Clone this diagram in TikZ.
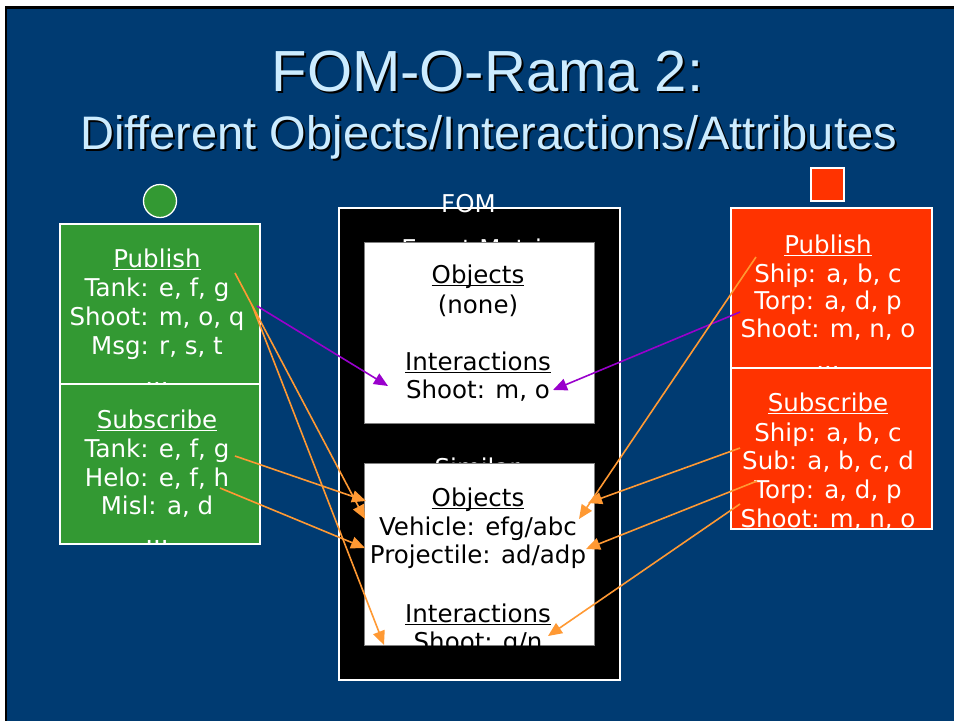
\documentclass[tikz,border=0pt]{standalone}
\usepackage{fontspec}
\setmainfont{DejaVu Sans}
\newfontfamily\titlefont{Liberation Sans}
\usetikzlibrary{arrows.meta}

\definecolor{slideblue}{RGB}{0,59,114}
\definecolor{titlecyan}{RGB}{204,236,255}
\definecolor{fedgreen}{RGB}{51,153,51}
\definecolor{fedred}{RGB}{255,51,0}
\definecolor{linkorange}{RGB}{255,153,51}
\definecolor{linkpurple}{RGB}{153,0,204}
\definecolor{boxgray}{RGB}{128,128,128}

% underlined heading word
\newsavebox\ulbox
\newcommand\ulword[1]{\sbox\ulbox{#1}\rlap{\rule[-3pt]{\wd\ulbox}{1.2pt}}\usebox\ulbox}

\tikzset{
  bodytxt/.style={font=\fontsize{24.5}{29}\selectfont, inner sep=0pt, anchor=base},
  wtxt/.style={bodytxt, text=white},
  ktxt/.style={bodytxt, text=black},
  titleA/.style={font=\titlefont\fontsize{58}{60}\selectfont, inner sep=0pt, anchor=base},
  titleB/.style={font=\titlefont\fontsize{47}{50}\selectfont, inner sep=0pt, anchor=base},
  fedbox/.style={draw=white, line width=1.3pt},
  orangelink/.style={draw=linkorange, line width=1.6pt, -{Triangle[length=14pt,width=12pt]}},
  purplelink/.style={draw=linkpurple, line width=1.6pt, -{Triangle[length=14pt,width=12pt]}},
}

\begin{document}
\begin{tikzpicture}[x=1pt,y=-1pt]
\useasboundingbox (0,0) rectangle (954,721);

% slide background with its frame
\fill[white] (0,0) rectangle (954,721);
\fill[slideblue] (7,9) rectangle (954,721);
\fill[black] (5,6) rectangle (954,9);
\fill[black] (5,6) rectangle (7,721);

% title with drop shadow
\node[titleA, text=black] (t1s) at (489.5,93) {FOM-O-Rama 2:};
\node[titleA, text=titlecyan] (t1) at (487.5,91) {FOM-O-Rama 2:};
\node[titleB, text=black] (t2s) at (490.5,151) {Different Objects/Interactions/Attributes};
\node[titleB, text=titlecyan] (t2) at (488.5,149) {Different Objects/Interactions/Attributes};

% FOM container
\draw[fill=black, draw=white, line width=1.2pt] (339,208) rectangle (620,680);
\node[wtxt] (fomlbl) at (468.5,212) {FOM};
\node[wtxt] (evlbl) at (479,257) {Event Matrix};
\node[wtxt] (simlbl) at (477,476) {Similar};

% first FOM panel
\draw[fill=white, draw=boxgray, line width=0.8pt] (364,242) rectangle (594,423);
\node[ktxt] (a1) at (478,283) {\ulword{Objects}};
\node[ktxt] (a2) at (478,313) {(none)};
\node[ktxt] (a3) at (478,370) {\ulword{Interactions}};
\node[ktxt] (a4) at (478,398) {Shoot: m, o};

% second FOM panel
\draw[fill=white, draw=boxgray, line width=0.8pt] (364,463) rectangle (594,645);
\node[ktxt] (b1) at (478,506) {\ulword{Objects}};
\node[ktxt] (b2) at (478,535) {Vehicle: efg/abc};
\node[ktxt] (b3) at (478,563) {Projectile: ad/adp};
\node[ktxt] (b4) at (478,622) {\ulword{Interactions}};
\begin{scope}
  \clip (364,463) rectangle (594,645);
  \node[ktxt] (b5) at (478,650) {Shoot: g/n};
\end{scope}

% green federate
\node[circle, fill=fedgreen, draw=white, line width=1.3pt, minimum size=33pt, inner sep=0pt] (gmark) at (160,201) {};
\fill[fedgreen] (60,224) rectangle (260,384);
\node[wtxt] (g1) at (157,267) {\ulword{Publish}};
\node[wtxt] (g2) at (157,296) {Tank: e, f, g};
\node[wtxt] (g3) at (157,325) {Shoot: m, o, q};
\node[wtxt] (g4) at (157,354) {Msg: r, s, t};
\node[wtxt] (g5) at (157,385) {...};
\draw[fedbox] (60,224) rectangle (260,384);
\fill[fedgreen] (60,384) rectangle (260,544);
\begin{scope}
  \clip (60,384) rectangle (260,544);
  \node[wtxt] (g6) at (157,428) {\ulword{Subscribe}};
  \node[wtxt] (g7) at (157,457) {Tank: e, f, g};
  \node[wtxt] (g8) at (157,486) {Helo: e, f, h};
  \node[wtxt] (g9) at (157,514) {Misl: a, d};
  \node[wtxt] (g10) at (157,543) {...};
\end{scope}
\draw[fedbox] (60,384) rectangle (260,544);

% red federate
\draw[fill=fedred, draw=white, line width=1.3pt] (811,168) rectangle (844,201);
\node[inner sep=0pt] (rmark) at (827.5,184.5) {};
\fill[fedred] (731,208) rectangle (932,368);
\node[wtxt] (r1) at (828,253) {\ulword{Publish}};
\node[wtxt] (r2) at (828,282) {Ship: a, b, c};
\node[wtxt] (r3) at (828,309) {Torp: a, d, p};
\node[wtxt] (r4) at (828,337) {Shoot: m, n, o};
\node[wtxt] (r5) at (828,369) {...};
\draw[fedbox] (731,208) rectangle (932,368);
\fill[fedred] (731,368) rectangle (932,529);
\begin{scope}
  \clip (731,368) rectangle (932,529);
  \node[wtxt] (r6) at (828,411) {\ulword{Subscribe}};
  \node[wtxt] (r7) at (828,441) {Ship: a, b, c};
  \node[wtxt] (r8) at (828,469) {Sub: a, b, c, d};
  \node[wtxt] (r9) at (828,498) {Torp: a, d, p};
  \node[wtxt] (r10) at (828,527) {Shoot: m, n, o};
\end{scope}
\draw[fedbox] (731,368) rectangle (932,529);

% connector end points
\coordinate (gPubTank) at (235,273);
\coordinate (gPubShoot) at (252,305);
\coordinate (gPubShootP) at (257,306);
\coordinate (gSubTank) at (235,456);
\coordinate (gSubHelo) at (220,488);
\coordinate (rPubShip) at (756,257);
\coordinate (rPubTorp) at (740,312);
\coordinate (rSubSub) at (740,448);
\coordinate (rSubTorp) at (757,481);
\coordinate (rSubShoot) at (740,504);

\coordinate (aInterL) at (388,386);
\coordinate (aInterR) at (553,390);
\coordinate (bObjL) at (365,519);
\coordinate (bVehL) at (366,501);
\coordinate (bProjL) at (365,548);
\coordinate (bInterL) at (384,645);
\coordinate (bObjR) at (579,519);
\coordinate (bVehR) at (588,503);
\coordinate (bProjR) at (586,549);
\coordinate (bInterR) at (548,636);

% interaction links into the first panel
\draw[purplelink] (gPubShootP) -- (aInterL);
\draw[purplelink] (rPubTorp) -- (aInterR);

% links into the second panel
\draw[orangelink] (gPubTank) -- (bObjL);
\draw[orangelink] (gPubShoot) -- (bInterL);
\draw[orangelink] (gSubTank) -- (bVehL);
\draw[orangelink] (gSubHelo) -- (bProjL);
\draw[orangelink] (rPubShip) -- (bObjR);
\draw[orangelink] (rSubSub) -- (bVehR);
\draw[orangelink] (rSubTorp) -- (bProjR);
\draw[orangelink] (rSubShoot) -- (bInterR);
\end{tikzpicture}
\end{document}
